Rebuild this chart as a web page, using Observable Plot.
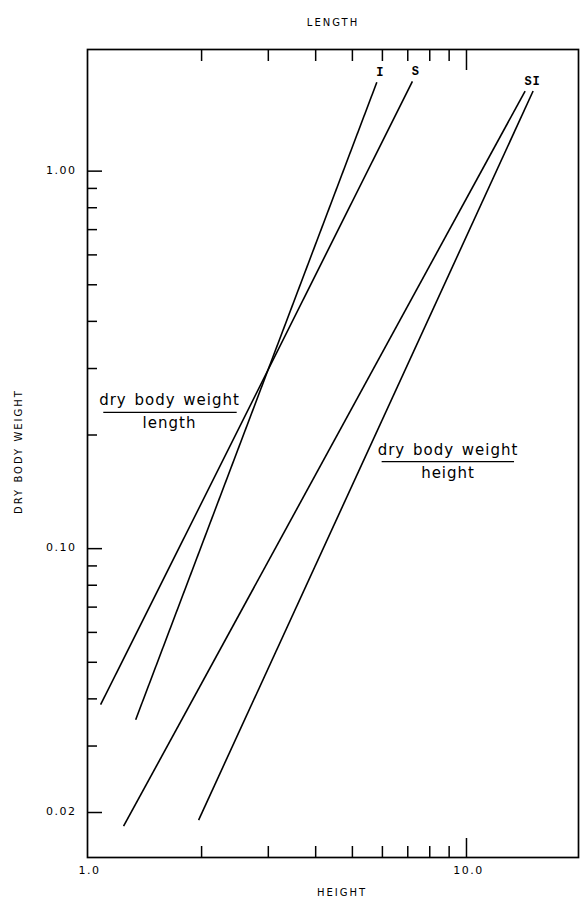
<!DOCTYPE html>
<html><head><meta charset="utf-8">
<script src="https://cdn.jsdelivr.net/npm/d3@7"></script>
<script src="https://cdn.jsdelivr.net/npm/@observablehq/plot@0.6"></script>
<style>
body{margin:0;background:#fff}
</style>
</head><body><div id="chart"></div>
<script>
// Regression lines (log dry body weight vs log height / length)
const seriesNames = ["length I", "length S", "height S", "height I"];
const seriesLabels = ["I", "S", "S", "I"];
const startHeight = [1.34, 1.083, 1.245, 1.964];
const startWeight = [0.0352, 0.0386, 0.0184, 0.0191];
const endHeight = [5.80, 7.20, 14.28, 14.99];
const endWeight = [1.72, 1.73, 1.63, 1.63];

// Ratio annotations
const ratioTop = ["dry body weight", "dry body weight"];
const ratioBottom = ["length", "height"];
const ratioCenterX = [1.646, 8.94];
const ratioBarY = [0.2296, 0.170];
const ratioBarX1 = [1.104, 5.99];
const ratioBarX2 = [2.483, 13.39];

// Ticks
const xMinorTicks = [2, 3, 4, 5, 6, 7, 8, 9];
const xMajorTicks = [10];
const xTickLabelValues = [1, 10];
const xTickLabels = ["1.0", "10.0"];
const yMinorTicks = [0.03, 0.04, 0.05, 0.06, 0.07, 0.08, 0.09, 0.2, 0.3, 0.4, 0.5, 0.6, 0.7, 0.8, 0.9];
const yMajorTicks = [0.02, 0.1, 1];
const yTickLabels = ["1.00", "0.10", "0.02"];
const yTickLabelValues = [1, 0.1, 0.02];

const axisTitles = ["LENGTH", "HEIGHT", "DRY BODY WEIGHT"];

const W = 580, H = 903, mT = 49, mB = 46, mL = 87, mR = 2;
const fH = H - mT - mB, fW = W - mL - mR;
const idx = seriesNames.map((_, i) => i);
const ridx = ratioTop.map((_, i) => i);

const chart = Plot.plot({
  width: W, height: H,
  marginTop: mT, marginBottom: mB, marginLeft: mL, marginRight: mR,
  style: {fontFamily: "'DejaVu Sans', sans-serif", color: "#000", background: "#fff"},
  x: {type: "log", domain: [1, 19.75], axis: null},
  y: {type: "log", domain: [0.0152, 2.1], axis: null},
  marks: [
    Plot.frame({stroke: "#000", strokeWidth: 1.7}),
    // bottom ticks (inside)
    Plot.tickX(xMinorTicks, {x: d => d, insetTop: fH - 11, stroke: "#000", strokeWidth: 1.5}),
    Plot.tickX(xMajorTicks, {x: d => d, insetTop: fH - 19, stroke: "#000", strokeWidth: 1.5}),
    // top ticks (inside)
    Plot.tickX(xMinorTicks, {x: d => d, insetBottom: fH - 12, stroke: "#000", strokeWidth: 1.5}),
    Plot.tickX(xMajorTicks, {x: d => d, insetBottom: fH - 21, stroke: "#000", strokeWidth: 1.5}),
    // left ticks (inside)
    Plot.tickY(yMinorTicks, {y: d => d, insetRight: fW - 10, stroke: "#000", strokeWidth: 1.5}),
    Plot.tickY(yMajorTicks, {y: d => d, insetRight: fW - 15, stroke: "#000", strokeWidth: 1.5}),
    // tick labels
    Plot.text(yTickLabels, {y: (d, i) => yTickLabelValues[i], text: d => d, frameAnchor: "left", dx: -11, dy: -1, textAnchor: "end", fontSize: 11, fill: "#000"}),
    Plot.text(xTickLabels, {x: (d, i) => xTickLabelValues[i], text: d => d, frameAnchor: "bottom", dx: 2, dy: 16, fontSize: 11, fill: "#000"}),
    // axis titles
    Plot.text([axisTitles[0]], {text: d => d, frameAnchor: "top", dy: -31, fontSize: 10, fill: "#000"}),
    Plot.text([axisTitles[1]], {text: d => d, frameAnchor: "bottom", dx: 9, dy: 38, fontSize: 10, fill: "#000"}),
    Plot.text([axisTitles[2]], {text: d => d, frameAnchor: "left", textAnchor: "middle", lineAnchor: "middle", dx: -69, dy: -2, rotate: -90, fontSize: 10, fill: "#000"}),
    // regression lines
    Plot.link(idx, {x1: i => startHeight[i], y1: i => startWeight[i], x2: i => endHeight[i], y2: i => endWeight[i], stroke: "#000", strokeWidth: 1.6}),
    Plot.text(idx, {x: i => endHeight[i], y: i => endWeight[i], text: i => seriesLabels[i], dx: 3, dy: -10, fontFamily: "'Liberation Mono', monospace", fontWeight: "bold", fontSize: 12, fill: "#000"}),
    // ratio annotations
    Plot.ruleY(ridx, {y: i => ratioBarY[i], x1: i => ratioBarX1[i], x2: i => ratioBarX2[i], stroke: "#000", strokeWidth: 1.3}),
    Plot.text(ridx, {x: i => ratioCenterX[i], y: i => ratioBarY[i], text: i => ratioTop[i], lineAnchor: "bottom", dy: -7, fontSize: 15, fill: "#000"}),
    Plot.text(ridx, {x: i => ratioCenterX[i], y: i => ratioBarY[i], text: i => ratioBottom[i], lineAnchor: "bottom", dy: 16, fontSize: 15, fill: "#000"})
  ]
});
// letter spacing by text role
d3.select(chart).selectAll("text").each(function() {
  const t = this.textContent;
  const s = d3.select(this);
  if (axisTitles.includes(t)) s.style("letter-spacing", "2px");
  else if (yTickLabels.includes(t) || xTickLabels.includes(t)) s.style("letter-spacing", "1.5px");
  else if (ratioTop.includes(t) || ratioBottom.includes(t)) s.style("letter-spacing", "1px").style("word-spacing", "2px");
});
document.getElementById("chart").appendChild(chart);
</script>
</body></html>
